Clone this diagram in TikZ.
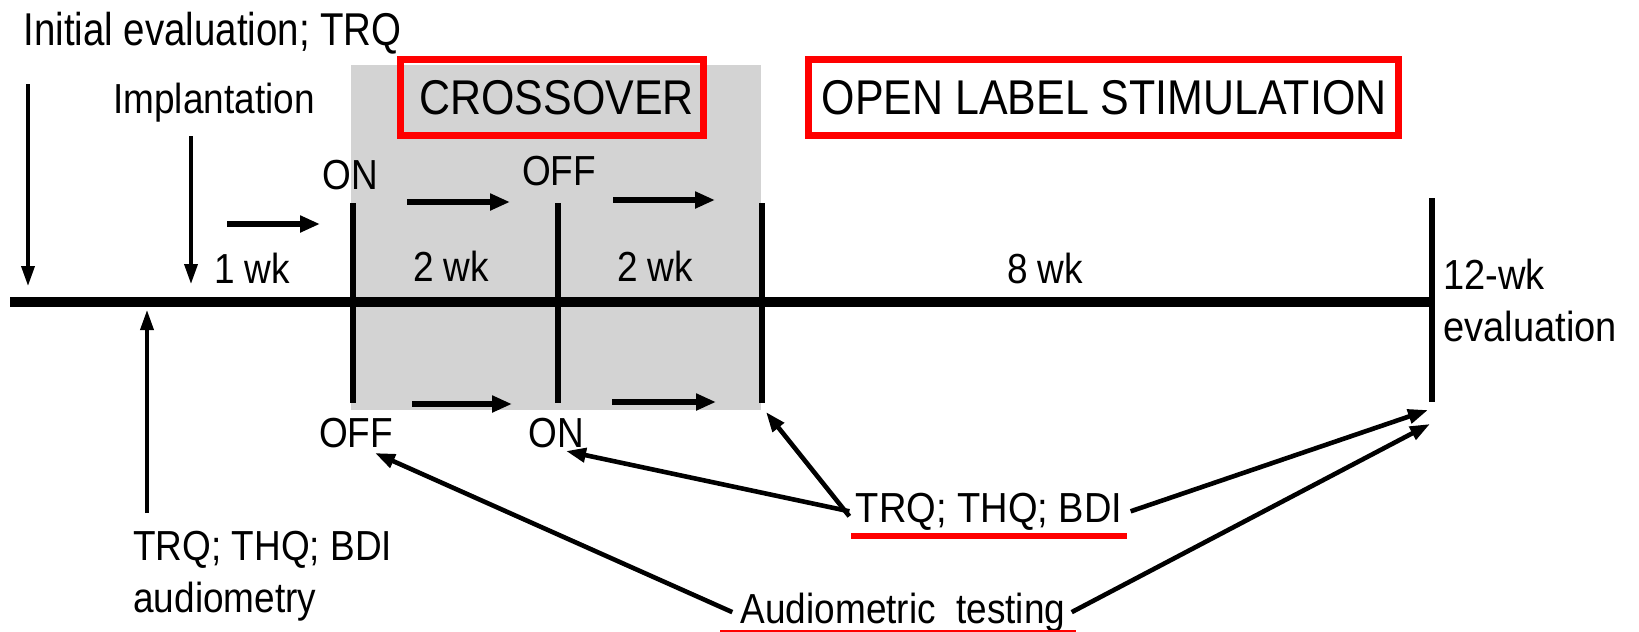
\documentclass[tikz,border=0pt]{standalone}
\usepackage{fontspec}
\usepackage{graphicx}
\setmainfont{Liberation Sans}[FakeStretch=0.88]
\usetikzlibrary{arrows.meta}
\definecolor{crossgray}{RGB}{211,211,211}
\definecolor{boxred}{RGB}{255,0,0}
\tikzset{
  txt/.style={inner sep=0pt, font=\fontsize{21}{26}\selectfont},
  bigtxt/.style={inner sep=0pt, font=\fontsize{23}{28}\selectfont},
  head/.style={inner sep=0pt, font=\fontsize{24.4}{28}\selectfont},
  timeline/.style={line width=5pt},
  tick/.style={line width=3pt},
  harr/.style={line width=3pt, -{Triangle[length=10pt,width=8pt]}},
  varr/.style={line width=1.8pt, -{Triangle[length=10pt,width=6.5pt]}},
  arr/.style={line width=2.3pt, -{Triangle[length=10pt,width=7pt]}},
  redbox/.style={draw=boxred, line width=3.5pt},
  redline/.style={draw=boxred, line width=3pt},
}
\begin{document}
\begin{tikzpicture}[x=0.5pt,y=-0.5pt]
\useasboundingbox (0,0) rectangle (1639,632);
% gray crossover region
\fill[crossgray] (351,65) rectangle (761,410);
% red boxes
\node[redbox, minimum width=151.5pt, minimum height=38pt] (xbox) at (552,97.5) {};
\node[head] (xtxt) at (556.5,97.5) {CROSSOVER};
\node[redbox, minimum width=295pt, minimum height=38pt] (obox) at (1103.5,97.5) {};
\node[head] (otxt) at (1104,98) {OPEN LABEL STIMULATION};
% timeline
\coordinate (t0) at (10,302);
\coordinate (t1) at (1432,302);
\draw[timeline] (t0) -- (t1);
% ticks
\coordinate (v1t) at (353,203); \coordinate (v1b) at (353,403);
\coordinate (v2t) at (558,203); \coordinate (v2b) at (558,403);
\coordinate (v3t) at (762,203); \coordinate (v3b) at (762,403);
\coordinate (v4t) at (1432,198); \coordinate (v4b) at (1432,402);
\draw[tick] (v1t) -- (v1b);
\draw[tick] (v2t) -- (v2b);
\draw[tick] (v3t) -- (v3b);
\draw[tick] (v4t) -- (v4b);
% top texts
\node[bigtxt, anchor=base west] (init) at (23,45) {\scalebox{0.95}[1]{Initial evaluation; TRQ}};
\coordinate (a1s) at (28,84); \coordinate (a1e) at (28,286);
\draw[varr] (a1s) -- (a1e);
\node[txt] (impl) at (214,103) {Implantation};
\coordinate (a2s) at (191,136); \coordinate (a2e) at (191,284);
\draw[varr] (a2s) -- (a2e);
\node[txt] (wk1) at (252,268) {1 wk};
\coordinate (h0s) at (227,224); \coordinate (h0e) at (320,224);
\draw[harr] (h0s) -- (h0e);
\node[txt] (ontop) at (350,175) {ON};
\node[txt] (offtop) at (559,171) {OFF};
\coordinate (h1s) at (407,202); \coordinate (h1e) at (510,202);
\draw[harr] (h1s) -- (h1e);
\coordinate (h2s) at (613,200); \coordinate (h2e) at (715,200);
\draw[harr] (h2s) -- (h2e);
\node[txt] (wk2a) at (451,266) {2 wk};
\node[txt] (wk2b) at (655,266) {2 wk};
\node[txt] (wk8) at (1045,268) {8 wk};
\node[txt, anchor=west, align=left] (eval) at (1443,300) {\scalebox{1.03}[1]{12-wk}\\\scalebox{1.03}[1]{evaluation}};
% bottom
\coordinate (h3s) at (412,404); \coordinate (h3e) at (512,404);
\draw[harr] (h3s) -- (h3e);
\coordinate (h4s) at (612,402); \coordinate (h4e) at (716,402);
\draw[harr] (h4s) -- (h4e);
\node[txt, anchor=base] (offbot) at (356,447) {OFF};
\node[txt, anchor=base] (onbot) at (556,447) {ON};
\node[txt, anchor=base west, align=left] (base) at (133,560) {TRQ; THQ; BDI};
\node[txt, anchor=base west] (audio) at (133,612) {audiometry};
\coordinate (a3s) at (147,513); \coordinate (a3e) at (147,310);
\draw[varr] (a3s) -- (a3e);
\node[txt, anchor=base] (quest) at (989,522) {\scalebox{1.03}[1]{TRQ; THQ; BDI}};
\draw[redline] ([xshift=-2pt,yshift=-7pt]quest.base west) -- ([xshift=2pt,yshift=-7pt]quest.base east);
\node[txt, anchor=base] (atest) at (903,623) {Audiometric\ \ testing};
\draw[redline, line width=1.2pt] ([xshift=-10pt,yshift=-4pt]atest.base west) -- ([xshift=5pt,yshift=-4pt]atest.base east);
% connectors
\coordinate (c1) at (766,412);
\coordinate (c2) at (566,451);
\coordinate (c3) at (375,453);
\coordinate (c4) at (1428,410);
\coordinate (c5) at (1430,424);
\draw[arr] ([xshift=-3pt,yshift=-12pt]quest.north west) -- (c1);
\draw[arr] ([xshift=-3pt]quest.west) -- (c2);
\draw[arr] ([xshift=4pt]quest.east) -- (c4);
\draw[arr] ([xshift=-4pt]atest.west) -- (c3);
\draw[arr] ([xshift=3pt]atest.east) -- (c5);
\end{tikzpicture}
\end{document}
